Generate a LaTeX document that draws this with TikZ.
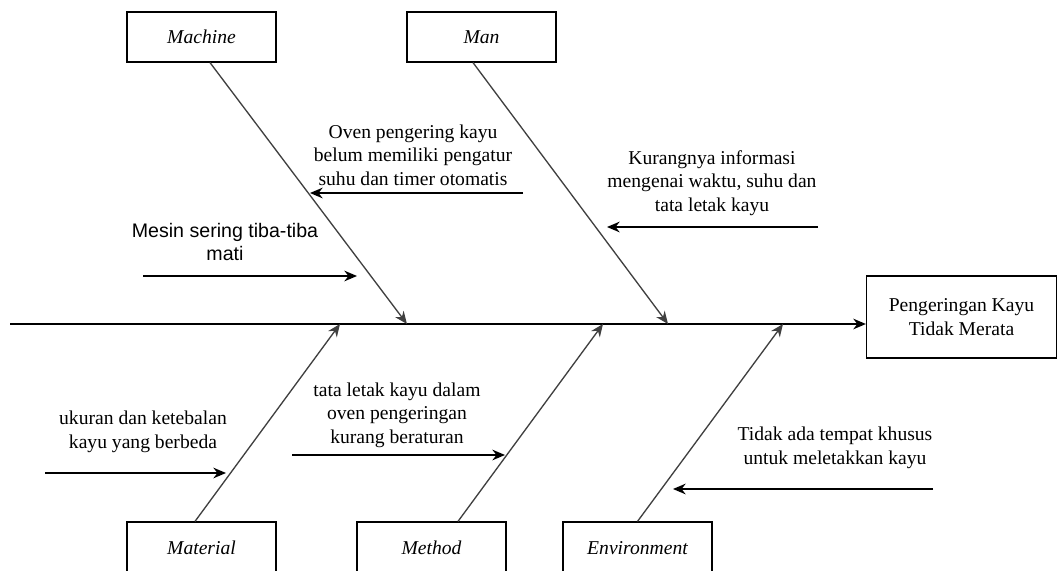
\documentclass[tikz,border=0pt]{standalone}
\usepackage{fontspec}
\setmainfont{Liberation Serif}
\newfontfamily\arialfont{Liberation Sans}
\usetikzlibrary{arrows.meta,calc}

\begin{document}
\begin{tikzpicture}[x=0.75pt,y=-0.75pt,
		block/.style ={rectangle, draw, line width=0.9pt, minimum width=111.75pt, minimum height=37.5pt, font=\fontsize{14.7}{17.6}\selectfont\itshape},
		effect/.style={rectangle, draw, line width=0.9pt, minimum width=142.5pt, minimum height=61.5pt, align=center, font=\fontsize{14.7}{17.6}\selectfont},
		cause/.style ={inner sep=0pt, align=center, font=\fontsize{14.7}{17.6}\selectfont},
		bone/.style  ={draw=black!75, line width=1pt, -{Stealth[length=9.5pt,width=8pt]}},
		arr/.style   ={line width=1pt, -{Stealth[length=9.5pt,width=8pt]}}]
		\useasboundingbox (0,0) rectangle (1058,571);
		% category boxes
		\node[block] (mach) at (201.5,37) {Machine};
		\node[block] (man) at (481.5,37) {Man};
		\node[block, minimum height=39pt] (mat) at (201.5,548) {Material};
		\node[block, minimum height=39pt] (meth) at (431.5,548) {Method};
		\node[block, minimum height=39pt] (env) at (637.5,548) {Environment};
		\node[effect] (eff) at (961.5,317) {Pengeringan Kayu\\Tidak Merata};
		% spine
		\coordinate (tail) at (10,324);
		\draw[arr] (tail) -- (tail -| eff.west);
		% bones
		\coordinate (machtip) at (407,324);
		\coordinate (mantip) at (668,324);
		\coordinate (mattip) at (340,324);
		\coordinate (methtip) at (603,324);
		\coordinate (envtip) at (783,324);
		\draw[bone] ($(mach.south)+(8.5,0)$) -- (machtip);
		\draw[bone] ($(man.south)+(-8.5,0)$) -- (mantip);
		\draw[bone] ($(mat.north)+(-6.5,0)$) -- (mattip);
		\draw[bone] ($(meth.north)+(26.5,0)$) -- (methtip);
		\draw[bone] (env.north) -- (envtip);
		% causes
		\node[cause] (oven) at (413,155) {Oven pengering kayu\\belum memiliki pengatur\\suhu dan timer otomatis};
		\coordinate (ovenA) at (523,193);
		\coordinate (ovenB) at (310,193);
		\draw[arr] (ovenA) -- (ovenB);
		\node[cause, font=\fontsize{14.7}{17.6}\arialfont] (mesin) at (225,242) {Mesin sering tiba-tiba\\mati};
		\coordinate (mesinA) at (143,276);
		\coordinate (mesinB) at (357,276);
		\draw[arr] (mesinA) -- (mesinB);
		\node[cause] (info) at (712,183) {Kurangnya informasi\\mengenai waktu, suhu dan\\tata letak kayu};
		\coordinate (infoA) at (818,227);
		\coordinate (infoB) at (607,227);
		\draw[arr] (infoA) -- (infoB);
		\node[cause] (ukuran) at (143,432) {ukuran dan ketebalan\\kayu yang berbeda};
		\coordinate (ukuranA) at (45,473);
		\coordinate (ukuranB) at (226,473);
		\draw[arr] (ukuranA) -- (ukuranB);
		\node[cause] (letak) at (397,415) {tata letak kayu dalam\\oven pengeringan\\kurang beraturan};
		\coordinate (letakA) at (292,455);
		\coordinate (letakB) at (505,455);
		\draw[arr] (letakA) -- (letakB);
		\node[cause] (tempat) at (835,448) {Tidak ada tempat khusus\\untuk meletakkan kayu};
		\coordinate (tempatA) at (933,489);
		\coordinate (tempatB) at (673,489);
		\draw[arr] (tempatA) -- (tempatB);
	\end{tikzpicture}
\end{document}
